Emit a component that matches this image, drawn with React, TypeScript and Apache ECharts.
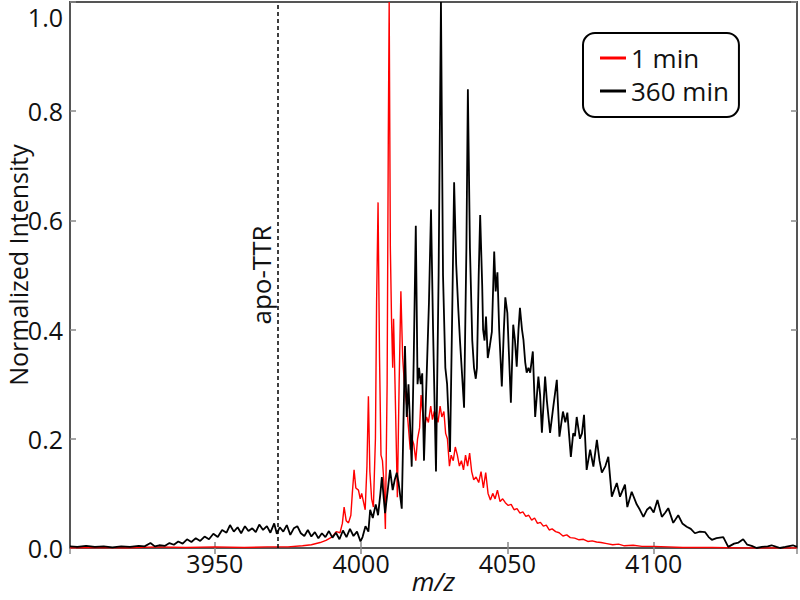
import React, { useEffect, useRef } from "react";
import * as echarts from "echarts";

// ---------- data ----------
const mz360: number[] = [
  3900.5, 3903, 3906, 3909, 3912, 3915, 3918, 3921, 3924, 3926, 3928, 3929.5, 3931, 3933, 3934.5, 3936, 3937.5, 3939,
  3940.5, 3942, 3943.5, 3945, 3946.5, 3948, 3949.5, 3951, 3952.5, 3954, 3955.2, 3956.5, 3957.8, 3959, 3960.3, 3961.5,
  3962.8, 3964, 3965.2, 3966.5, 3967.8, 3969, 3970.3, 3971.2, 3972.2, 3973.4, 3974.6, 3975.8, 3977, 3978.2, 3979.4,
  3980.6, 3981.8, 3983, 3984.2, 3985.4, 3986.6, 3987.8, 3989, 3990.2, 3991.4, 3992.6, 3993.8, 3995, 3996.2, 3997.4,
  3998.6, 3999.8, 4000.5, 4001.5, 4002.5, 4003.1, 4004.0, 4005.0, 4005.8, 4006.6, 4007.1, 4008.2, 4009.2, 4009.9,
  4010.8, 4011.5, 4012.2, 4012.8, 4013.9, 4015.0, 4015.6, 4016.2, 4017.3, 4018.0, 4018.7, 4019.3, 4019.8, 4020.4,
  4020.9, 4021.5, 4023.2, 4023.9, 4024.6, 4025.6, 4026.5, 4027.3, 4028.0, 4028.8, 4029.4, 4030.4, 4031.2, 4031.8,
  4032.5, 4033.2, 4033.8, 4035.2, 4036.0, 4036.5, 4037.2, 4038.0, 4038.6, 4039.2, 4039.6, 4040.2, 4040.7, 4041.4,
  4041.7, 4042.2, 4042.7, 4043.3, 4044.0, 4044.7, 4045.5, 4046.0, 4046.6, 4047.2, 4048.1, 4048.8, 4049.3, 4050.0,
  4050.5, 4051.2, 4052.0, 4052.6, 4053.2, 4053.8, 4054.3, 4055.0, 4055.5, 4056.1, 4056.6, 4057.2, 4057.8, 4058.7,
  4059.5, 4060.6, 4061.2, 4061.8, 4062.9, 4063.5, 4064.6, 4065.7, 4066.9, 4067.8, 4069.0, 4069.8, 4070.5, 4071.7,
  4072.5, 4073.1, 4073.7, 4074.8, 4075.5, 4076.2, 4077.1, 4078.3, 4079.4, 4080.6, 4081.5, 4082.3, 4083.5, 4084.5,
  4085.7, 4087.4, 4088.5, 4090.2, 4091.0, 4092.5, 4094.2, 4095.3, 4096.5, 4097.7, 4098.8, 4100.0, 4101.3, 4102.8,
  4104.0, 4105.0, 4106.7, 4108.4, 4109.8, 4111.3, 4112.7, 4114.1, 4115.8, 4117.6, 4118.8, 4119.9, 4121.5, 4123.8,
  4125.5, 4127.5, 4129, 4130.6, 4132, 4133.5, 4135.2, 4137, 4139, 4140.3, 4142, 4143.2, 4145, 4147.6, 4149,
];
const int360: number[] = [
  0.003, 0.002, 0.004, 0.002, 0.003, 0.001, 0.003, 0.002, 0.004, 0.003, 0.009, 0.003, 0.005, 0.004, 0.009, 0.006, 0.012, 0.008,
  0.016, 0.011, 0.018, 0.013, 0.021, 0.016, 0.026, 0.02, 0.033, 0.028, 0.042, 0.03, 0.038, 0.027, 0.04, 0.031,
  0.036, 0.029, 0.043, 0.033, 0.04, 0.028, 0.045, 0.026, 0.038, 0.03, 0.042, 0.024, 0.036, 0.04, 0.027,
  0.022, 0.033, 0.021, 0.029, 0.018, 0.027, 0.02, 0.031, 0.019, 0.028, 0.016, 0.032, 0.02, 0.035, 0.022,
  0.03, 0.012, 0.02, 0.04, 0.03, 0.07, 0.055, 0.08, 0.06, 0.1, 0.13, 0.064, 0.11, 0.143,
  0.106, 0.125, 0.138, 0.12, 0.072, 0.37, 0.24, 0.3, 0.149, 0.35, 0.59, 0.3, 0.33, 0.3,
  0.32, 0.16, 0.45, 0.62, 0.4, 0.14, 0.5, 1.0, 0.5, 0.33, 0.3, 0.176, 0.45, 0.67,
  0.52, 0.44, 0.38, 0.257, 0.55, 0.84, 0.55, 0.38, 0.33, 0.31, 0.33, 0.5, 0.61, 0.48,
  0.4, 0.38, 0.424, 0.348, 0.37, 0.396, 0.543, 0.47, 0.505, 0.4, 0.296, 0.4, 0.459, 0.43,
  0.36, 0.266, 0.409, 0.38, 0.332, 0.4, 0.44, 0.4, 0.381, 0.34, 0.321, 0.33, 0.321, 0.36,
  0.24, 0.314, 0.28, 0.211, 0.314, 0.27, 0.211, 0.259, 0.308, 0.204, 0.25, 0.23, 0.248, 0.167,
  0.21, 0.205, 0.24, 0.2, 0.21, 0.244, 0.143, 0.18, 0.149, 0.198, 0.16, 0.138, 0.15, 0.167,
  0.094, 0.119, 0.094, 0.116, 0.075, 0.103, 0.08, 0.07, 0.057, 0.07, 0.075, 0.065, 0.088, 0.057,
  0.065, 0.073, 0.046, 0.06, 0.045, 0.039, 0.035, 0.027, 0.03, 0.029, 0.02, 0.015, 0.018, 0.02,
  0.002, 0.008, 0.01, 0.016, 0.006, 0.004, 0.0, 0.002, 0.003, 0.005, 0.002, 0.0, 0.002, 0.005, 0.002,
];

const mz1: number[] = [
  3900.5, 3910, 3920, 3930, 3940, 3950, 3960, 3968, 3975, 3980, 3983, 3986, 3988, 3990, 3991.5, 3992.8, 3993.6, 3994.2,
  3994.9, 3995.7, 3996.5, 3997.0, 3997.6, 3998.2, 3999.1, 3999.7, 4000.2, 4000.8, 4001.4, 4002.0, 4002.5, 4003.0,
  4003.6, 4004.2, 4004.9, 4005.3, 4005.8, 4006.3, 4006.8, 4007.3, 4007.8, 4008.3, 4008.9, 4009.3, 4009.6, 4010.0,
  4010.4, 4010.8, 4011.1, 4011.6, 4012.4, 4013.0, 4013.6, 4014.2, 4014.8, 4015.6, 4016.2, 4016.8, 4017.4, 4018.0,
  4018.7, 4019.3, 4020.0, 4020.5, 4021.0, 4021.6, 4022.4, 4023.0, 4023.8, 4024.4, 4025.0, 4025.6, 4026.3, 4027.0,
  4027.6, 4028.3, 4028.9, 4029.5, 4030.2, 4030.8, 4031.5, 4032.2, 4032.9, 4033.6, 4034.3, 4035.0, 4035.7, 4036.4,
  4037.1, 4037.8, 4038.5, 4039.3, 4040.2, 4041.0, 4041.8, 4042.6, 4043.4, 4044.2, 4045.0, 4045.8, 4046.6, 4047.5,
  4048.4, 4049.3, 4050.3, 4051.3, 4052.3, 4053.3, 4054.3, 4055.3, 4056.3, 4057.3, 4058.3, 4059.3, 4060.3, 4061.3,
  4062.3, 4063.3, 4064.3, 4065.3, 4066.5, 4067.7, 4069, 4070.3, 4071.5, 4073, 4074.5, 4076, 4077.5, 4079, 4080.5,
  4082, 4084, 4086, 4088, 4090, 4093, 4096, 4100, 4105, 4110, 4120, 4130, 4140, 4149,
];
const int1: number[] = [
  0.0, 0.001, 0.0, 0.002, 0.001, 0.002, 0.001, 0.002, 0.002, 0.004, 0.006, 0.01, 0.014, 0.02, 0.03, 0.028, 0.045, 0.075,
  0.05, 0.046, 0.06, 0.1, 0.143, 0.11, 0.106, 0.09, 0.1, 0.085, 0.07, 0.15, 0.278, 0.14,
  0.09, 0.075, 0.2, 0.45, 0.633, 0.35, 0.17, 0.16, 0.12, 0.035, 0.3, 0.75, 1.0, 0.55,
  0.42, 0.33, 0.42, 0.3, 0.093, 0.3, 0.47, 0.35, 0.3, 0.26, 0.22, 0.18, 0.2, 0.19,
  0.16, 0.2, 0.22, 0.28, 0.25, 0.22, 0.24, 0.23, 0.26, 0.235, 0.25, 0.245, 0.23, 0.26,
  0.24, 0.25, 0.21, 0.2, 0.15, 0.17, 0.16, 0.185, 0.17, 0.15, 0.16, 0.143, 0.17, 0.15,
  0.174, 0.14, 0.125, 0.13, 0.12, 0.14, 0.11, 0.138, 0.1, 0.088, 0.1, 0.09, 0.106, 0.085,
  0.09, 0.083, 0.078, 0.08, 0.07, 0.072, 0.064, 0.066, 0.058, 0.06, 0.051, 0.055, 0.045, 0.047,
  0.04, 0.042, 0.033, 0.035, 0.03, 0.028, 0.022, 0.024, 0.019, 0.018, 0.015, 0.016, 0.012, 0.013, 0.011,
  0.01, 0.008, 0.006, 0.007, 0.004, 0.005, 0.003, 0.003, 0.002, 0.001, 0.001, 0.0, 0.0, 0.0,
];

const seriesNames = ["1 min", "360 min"];
const xRange = [3900.5, 4149];
const yRange = [0, 1.0];
const apoTTR = 3971.6;
const apoLabel = "apo-TTR";
const xName = "m/z";
const yName = "Normalized Intensity";

const FONT = "Open Sans";

export default function App() {
  const ref = useRef<HTMLDivElement>(null);
  useEffect(() => {
    document.body.style.margin = "0";
    if (!ref.current) return;
    const chart = echarts.init(ref.current, undefined, { renderer: "svg" });
    const redData = mz1.map((m, i) => [m, int1[i]]);
    const blackData = mz360.map((m, i) => [m, int360[i]]);
    const tickStyle = { show: true, inside: true, length: 6, lineStyle: { color: "#888", width: 1.5 } };
    const xCommon = {
      type: "value" as const,
      min: xRange[0],
      max: xRange[1],
      splitLine: { show: false },
      axisLine: { show: false },
      axisTick: tickStyle,
    };
    const yCommon = {
      type: "value" as const,
      min: yRange[0],
      max: yRange[1],
      interval: 0.2,
      splitLine: { show: false },
      axisLine: { show: false },
      axisTick: tickStyle,
    };
    chart.setOption({
      animation: false,
      backgroundColor: "#fff",
      textStyle: { fontFamily: FONT },
      grid: {
        left: 70,
        right: 3,
        top: 2,
        bottom: 52,
        containLabel: false,
        outerBoundsMode: "none",
        show: true,
        borderColor: "#555",
        borderWidth: 2,
      },
      legend: {
        data: seriesNames,
        orient: "vertical",
        left: 583,
        top: 33,
        icon: "rect",
        itemWidth: 26,
        itemHeight: 3,
        itemGap: 5,
        padding: [11, 10, 12, 17],
        borderColor: "#000",
        borderWidth: 2,
        borderRadius: 12,
        textStyle: { fontFamily: FONT, fontSize: 26, color: "#111", lineHeight: 28 },
      },
      xAxis: [
        {
          ...xCommon,
          position: "bottom",
          name: xName,
          nameLocation: "middle",
          nameGap: 20,
          nameMoveOverlap: false,
          nameTextStyle: { fontFamily: FONT, fontSize: 26, fontStyle: "italic", color: "#111" },
          axisLabel: {
            show: true,
            margin: 2,
            fontFamily: FONT,
            fontSize: 25,
            color: "#111",
            showMinLabel: false,
            showMaxLabel: false,
            formatter: (v: number) => (Math.abs(v % 50) < 1e-6 ? String(v) : ""),
          },
        },
        { ...xCommon, position: "top", axisLabel: { show: false } },
      ],
      yAxis: [
        {
          ...yCommon,
          position: "left",
          name: yName,
          nameLocation: "middle",
          nameGap: 40,
          nameMoveOverlap: false,
          nameTextStyle: {
            fontFamily: FONT,
            fontSize: 25,
            lineHeight: 25,
            color: "#111",
            padding: [0, 0, 0, 20],
          },
          axisLabel: {
            show: true,
            margin: 7,
            fontFamily: FONT,
            fontSize: 25,
            color: "#111",
            formatter: (v: number) => (v > 0.999 ? "{t|" + v.toFixed(1) + "}" : v.toFixed(1)),
            rich: { t: { fontFamily: FONT, fontSize: 25, color: "#111", padding: [30, 0, 0, 0] } },
          },
        },
        { ...yCommon, position: "right", axisLabel: { show: false } },
      ],
      series: [
        {
          name: seriesNames[0],
          type: "line",
          data: redData,
          showSymbol: false,
          symbol: "none",
          clip: true,
          lineStyle: { color: "#ff0000", width: 1.4 },
          itemStyle: { color: "#ff0000" },
          z: 2,
        },
        {
          name: seriesNames[1],
          type: "line",
          data: blackData,
          showSymbol: false,
          symbol: "none",
          clip: true,
          lineStyle: { color: "#000", width: 1.8 },
          itemStyle: { color: "#000" },
          z: 3,
          markLine: {
            silent: true,
            symbol: "none",
            data: [{ xAxis: apoTTR }],
            lineStyle: { color: "#000", width: 1.5, type: [4, 3] },
            label: {
              show: true,
              formatter: apoLabel,
              position: "insideMiddleTop",
              distance: 4,
              fontFamily: FONT,
              fontSize: 26,
              color: "#111",
            },
          },
        },
      ],
    });
    return () => chart.dispose();
  }, []);
  return <div ref={ref} style={{ position: "absolute", left: 0, top: 0, width: 800, height: 600 }} />;
}
